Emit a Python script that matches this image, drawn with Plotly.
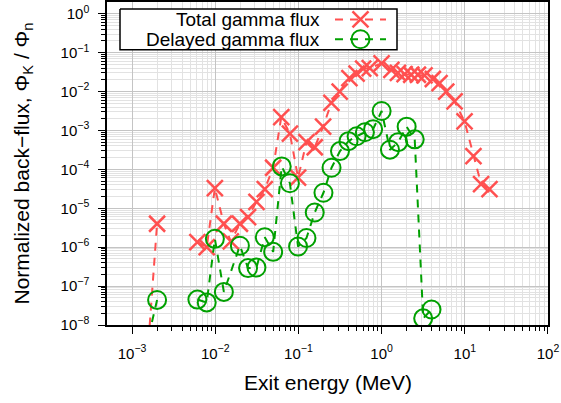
import math
import plotly.graph_objects as go

# ---- data -------------------------------------------------------------
# Total gamma back-flux (normalized) versus exit energy in MeV.
# None marks bins with no tally (the curve is broken there).
total_energy = [0.00158, 0.002, 0.004, 0.0061, 0.0079, 0.0099, 0.0127, 0.0154,
                0.0198, 0.0248, 0.0313, 0.0394, 0.0497, 0.0622, 0.079, 0.099,
                0.125, 0.157, 0.198, 0.249, 0.313, 0.41, 0.5, 0.6, 0.72, 1.0,
                1.31, 1.57, 1.89, 2.27, 2.73, 3.28, 4.13, 4.97, 5.98, 7.53,
                9.93, 12.7, 15.7, 19.8]
total_flux = [4e-9, 4.0e-6, None, 1.34e-6, 1.0e-6, 3.3e-5, 4.0e-6, 1.4e-6,
              4.0e-6, 5.9e-6, 1.47e-5, 3.1e-5, 1.1e-4, 2.2e-3, 8.3e-4, 6.1e-5,
              5.0e-4, 3.7e-4, 1.25e-3, 5.1e-3, 1.0e-2, 2.2e-2, 2.9e-2, 3.9e-2,
              4.0e-2, 5.3e-2, 3.6e-2, 3.0e-2, 2.8e-2, 2.7e-2, 2.7e-2, 2.6e-2,
              2.1e-2, 1.65e-2, 1.0e-2, 5.6e-3, 1.7e-3, 2.2e-4, 4.2e-5, 3.1e-5]

# Delayed gamma back-flux (normalized) versus exit energy in MeV.
delayed_energy = [0.00158, 0.002, 0.004, 0.0061, 0.0079, 0.0099, 0.0127,
                  0.0198, 0.0248, 0.0313, 0.0394, 0.0497, 0.063, 0.079, 0.099,
                  0.125, 0.157, 0.2, 0.25, 0.316, 0.4, 0.5, 0.63, 0.79, 1.0,
                  1.26, 1.58, 2.0, 2.5, 3.16, 3.98]
delayed_flux = [5e-9, 4.4e-8, None, 4.5e-8, 3.8e-8, 1.64e-6, 7.1e-8,
                1.09e-6, 2.9e-7, 3.0e-7, 1.8e-6, 7.6e-7, 1.19e-4, 4.4e-5, 1.04e-6,
                1.72e-6, 7.8e-6, 2.5e-5, 1.1e-4, 2.95e-4, 5.3e-4, 7.1e-4, 9.0e-4,
                1.08e-3, 3.16e-3, 3.2e-4, 5.0e-4, 1.25e-3, 5.9e-4, 1.48e-8, 2.5e-8]

series_names = ["Total gamma flux", "Delayed gamma flux"]

x_decades = [-3, -2, -1, 0, 1, 2]
y_decades = [-8, -7, -6, -5, -4, -3, -2, -1, 0]

# ---- styling ----------------------------------------------------------
RED = "#ff5050"
GREEN = "#00a000"
FONT = "Liberation Sans, Arial, Helvetica, sans-serif"
DASH = "8px,7px"
MAJOR_GRID = "#c4c4c4"
MINOR_GRID = "#e2e2e2"

W, H = 561, 403
M_L, M_R, M_T, M_B = 107, 13, 0, 78


def sup_label(p):
    s = str(p).replace("-", "\u2212")
    return f"10<sup>{s}</sup>"


def minor_vals(decades):
    vals = []
    for d in decades[:-1]:
        for k in range(2, 10):
            vals.append(k * 10.0 ** d)
    return vals


fig = go.Figure()

fig.add_trace(go.Scatter(
    x=total_energy, y=total_flux, mode="lines+markers", name=series_names[0],
    connectgaps=False, showlegend=False,
    line=dict(color=RED, width=2, dash=DASH),
    marker=dict(symbol="x-thin-open", size=16, color=RED,
                line=dict(color=RED, width=2.5)),
))

fig.add_trace(go.Scatter(
    x=delayed_energy, y=delayed_flux, mode="lines+markers", name=series_names[1],
    connectgaps=False, showlegend=False,
    line=dict(color=GREEN, width=2, dash=DASH),
    marker=dict(symbol="circle-open", size=18, color=GREEN,
                line=dict(color=GREEN, width=2)),
))

# ---- key (text on the left, sample on the right) ----------------------
# Drawn on a hidden overlay axis measured in plot-area pixels.
plot_w = W - M_L - M_R
plot_h = H - M_T - M_B
box = dict(x0=13, x1=290, y0=7, y1=48)
rows_y = [17.5, 37.5]
text_right = 215
sample_x0, sample_x1 = 228, 279
sample_mid = (sample_x0 + sample_x1) / 2

fig.add_trace(go.Scatter(
    x=[box["x0"], box["x1"], box["x1"], box["x0"], box["x0"]],
    y=[box["y0"], box["y0"], box["y1"], box["y1"], box["y0"]],
    xaxis="x2", yaxis="y2", mode="lines", fill="toself",
    fillcolor="white", line=dict(color="black", width=1.5),
    showlegend=False, hoverinfo="skip"))

annotations = []
key_styles = [(RED, "x-thin-open", 16, 2.5), (GREEN, "circle-open", 18, 2)]
for name, ry, (col, sym, sz, lw) in zip(series_names, rows_y, key_styles):
    annotations.append(dict(
        xref="x2", yref="y2", x=text_right, y=ry, text=name,
        showarrow=False, xanchor="right", yanchor="middle",
        font=dict(family=FONT, size=19, color="black")))
    fig.add_trace(go.Scatter(
        x=[sample_x0, sample_x1], y=[ry, ry], xaxis="x2", yaxis="y2",
        mode="lines", line=dict(color=col, width=2, dash=DASH),
        showlegend=False, hoverinfo="skip"))
    fig.add_trace(go.Scatter(
        x=[sample_mid], y=[ry], xaxis="x2", yaxis="y2", mode="markers",
        showlegend=False, hoverinfo="skip",
        marker=dict(symbol=sym, size=sz, color=col,
                    line=dict(color=col, width=lw))))

# axis titles
annotations.append(dict(
    xref="paper", yref="paper", x=0.5, y=-(383 - plot_h) / plot_h,
    text="Exit energy (MeV)", showarrow=False, xanchor="center",
    yanchor="middle", font=dict(family=FONT, size=21, color="black")))
annotations.append(dict(
    xref="paper", yref="paper", x=-(M_L - 22) / plot_w, y=0.5,
    text="Normalized back\u2212flux, \u03a6<sub>K</sub> / \u03a6<sub>n</sub>",
    showarrow=False, textangle=-90, xanchor="center", yanchor="middle",
    font=dict(family=FONT, size=21, color="black")))

axis_common = dict(
    type="log", showline=True, linecolor="black", linewidth=1.5, mirror=True,
    ticks="outside", ticklen=7, tickwidth=1, tickcolor="black",
    showgrid=True, gridcolor=MAJOR_GRID, gridwidth=1, zeroline=False,
    tickfont=dict(family=FONT, size=15, color="black"),
)

fig.update_layout(
    width=W, height=H,
    margin=dict(l=M_L, r=M_R, t=M_T, b=M_B),
    paper_bgcolor="white", plot_bgcolor="white",
    showlegend=False,
    xaxis=dict(
        **axis_common,
        range=[math.log10(5e-4), 2.0001],
        tickmode="array", tickvals=[10.0 ** d for d in x_decades],
        ticktext=[sup_label(d) for d in x_decades],
        ticklabelstandoff=7,
        minor=dict(tickmode="array", tickvals=minor_vals(x_decades),
                   ticks="outside", ticklen=4, tickcolor="black",
                   showgrid=True, gridcolor=MINOR_GRID, gridwidth=1),
    ),
    yaxis=dict(
        **axis_common,
        range=[-8, math.log10(2)],
        tickmode="array", tickvals=[10.0 ** d for d in y_decades],
        ticktext=[sup_label(d) for d in y_decades],
        ticklabelstandoff=6,
        minor=dict(tickmode="array", tickvals=minor_vals(y_decades),
                   ticks="outside", ticklen=4, tickcolor="black",
                   showgrid=True, gridcolor=MINOR_GRID, gridwidth=1),
    ),
    xaxis2=dict(overlaying="x", anchor="y2", range=[0, plot_w],
                visible=False, fixedrange=True),
    yaxis2=dict(overlaying="y", anchor="x2", range=[plot_h, 0],
                visible=False, fixedrange=True),
    annotations=annotations,
)

fig.write_html("out.html")
